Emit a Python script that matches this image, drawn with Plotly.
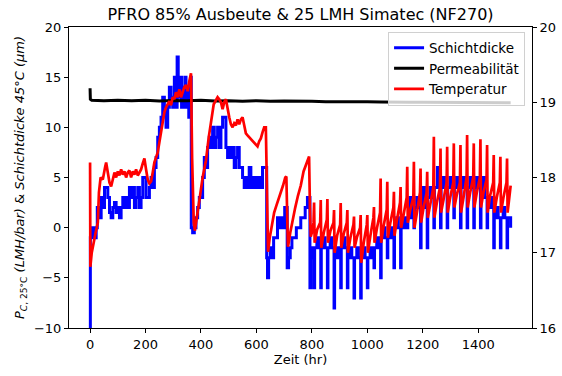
import plotly.graph_objects as go

title_text = "PFRO 85% Ausbeute & 25 LMH Simatec (NF270)"
x_label = "Zeit (hr)"
y_label = "<i>P</i><sub><i>C</i>, 25°C</sub> <i>(LMH/bar)</i> & <i>Schichtdicke 45°C (μm)</i>"
x_ticks = [0, 200, 400, 600, 800, 1000, 1200, 1400]
y_ticks = [-10, -5, 0, 5, 10, 15, 20]
y2_ticks = [16, 17, 18, 19, 20]

# Schichtdicke (blue), (time, value)
schicht_pts = [
    (0, -10), (1, -1), (4, 0), (8, -1), (12, 0), (18, -1), (22, 0), (26, 2), (34, 1), (40, 3),
    (46, 2), (52, 4), (58, 4), (64, 3), (70, 1.5), (76, 1), (82, 2), (88, 2.5), (94, 1.5), (100, 2),
    (106, 1), (112, 2), (118, 3), (124, 2), (130, 3), (136, 2), (142, 4), (148, 3), (154, 4), (160, 2),
    (166, 3), (172, 4), (178, 2), (184, 3), (190, 5), (196, 5), (202, 3), (208, 3), (214, 4), (220, 5),
    (226, 4), (232, 6), (238, 7), (244, 9), (250, 10), (256, 11), (262, 13), (268, 12), (274, 10),
    (280, 12), (286, 14), (292, 13), (298, 12), (304, 15), (310, 12), (314, 17), (318, 14), (322, 13),
    (326, 15), (330, 12), (336, 14), (342, 15), (346, 12), (350, 14), (356, 11), (360, 13), (363, 15),
    (365, 0), (370, -0.5), (376, 0), (382, 1), (388, 2), (394, 3), (400, 3), (406, 5), (412, 7),
    (418, 6), (424, 8), (430, 9), (436, 8), (442, 10), (448, 8), (454, 9), (460, 10), (466, 8),
    (472, 10), (478, 11), (484, 11), (490, 8), (496, 7), (502, 8), (508, 7), (514, 8), (520, 6),
    (526, 7), (532, 8), (538, 6), (544, 6), (550, 5), (556, 4), (562, 5), (568, 4), (574, 6),
    (580, 4), (586, 5), (592, 4), (598, 5), (604, 4), (610, 5), (616, 4), (622, 6), (628, 6),
    (634, 6), (637, -3), (640, -5), (644, -3), (650, -2), (656, -3), (662, -1), (670, -1), (676, 1),
    (684, 0), (690, 1), (696, 0), (702, 2), (708, 2), (711, -4), (716, -3), (722, -2), (728, -1),
    (736, -1), (744, 0), (752, 0), (760, 1), (768, 1), (776, 2), (784, 3), (790, 3), (793, -6),
    (797, -3), (802, -2),
    (808, -6), (810, -2), (818, -1), (824, -2),
    (832, -6), (834, -2), (842, -1), (848, -2),
    (856, -6), (858, -2), (866, -1), (872, -2),
    (880, -8), (882, -3), (890, -2), (896, -3),
    (904, -6), (906, -2), (914, -1), (920, -2),
    (928, -6), (930, -3), (938, -2), (944, -3),
    (952, -7), (954, -3), (962, -2), (968, -3),
    (976, -7), (978, -3), (986, -2), (992, -3),
    (1000, -6), (1002, -3), (1010, -2), (1016, -3),
    (1024, -4), (1026, -2), (1034, -1), (1040, -2),
    (1048, -5), (1050, -1), (1058, 0), (1064, -1),
    (1072, -3), (1074, -1), (1082, 0), (1088, -1),
    (1096, -4), (1098, 0), (1106, 1), (1112, 0),
    (1120, -4), (1122, 0), (1130, 1), (1136, 0),
    (1144, 0), (1146, 1), (1154, 3), (1160, 1),
    (1168, 0), (1170, 2), (1178, 3), (1184, 2),
    (1192, -2), (1194, 2), (1202, 4), (1208, 2),
    (1216, -2), (1218, 3), (1226, 4), (1232, 3),
    (1240, 0), (1242, 4), (1253, 6), (1258, 4),
    (1264, 0), (1266, 4), (1274, 5), (1280, 4),
    (1288, 0), (1290, 4), (1298, 5), (1304, 4),
    (1312, 1), (1314, 4), (1322, 5), (1328, 4),
    (1336, 0), (1338, 4), (1346, 5), (1352, 4),
    (1360, 0), (1362, 4), (1370, 5), (1376, 4),
    (1384, 0), (1386, 4), (1394, 5), (1400, 4),
    (1408, 0), (1410, 3), (1418, 5), (1424, 3),
    (1432, 0), (1434, 2), (1442, 3), (1448, 2),
    (1456, -2), (1458, 1), (1466, 2), (1472, 1),
    (1480, -2), (1482, 1), (1490, 2), (1496, 1),
    (1504, -2), (1506, 1), (1512, 1), (1517, 0),
]

# Permeabilität (black)
perm_pts = [
    (0, 13.9), (1, 12.8), (6, 12.7), (50, 12.65), (100, 12.7), (150, 12.65), (200, 12.7),
    (250, 12.62), (300, 12.68), (350, 12.65), (400, 12.7), (450, 12.62), (500, 12.66),
    (550, 12.6), (600, 12.65), (650, 12.6), (700, 12.63), (750, 12.58), (800, 12.6),
    (850, 12.56), (900, 12.58), (950, 12.55), (1000, 12.55), (1050, 12.52), (1100, 12.54),
    (1150, 12.5), (1200, 12.5), (1250, 12.48), (1300, 12.48), (1350, 12.45), (1400, 12.46),
    (1450, 12.44), (1500, 12.45), (1517, 12.45),
]

# Temperatur (red)
temp_pts = [
    (0, 6.5), (1, -3.9), (6, -2.5), (12, -1.5), (20, -0.5), (28, 0.5), (32, 3.5), (38, 5.0),
    (46, 4.8), (54, 6.0), (58, 6.5), (64, 5.5), (70, 4.5), (76, 4.1), (82, 4.8), (88, 5.5),
    (94, 5.0), (100, 5.6), (106, 5.2), (112, 5.8), (118, 5.3), (124, 5.6), (130, 5.0), (136, 5.5),
    (142, 5.7), (148, 5.0), (154, 5.6), (160, 5.3), (166, 5.8), (172, 5.2), (178, 5.5), (184, 5.8),
    (190, 6.4), (196, 6.9), (202, 5.8), (208, 4.8), (214, 4.4), (220, 4.6), (226, 5.5), (232, 6.5),
    (238, 7.0), (244, 7.5), (250, 8.5), (256, 9.5), (262, 10.5), (268, 11.5), (274, 12.0),
    (280, 12.3), (286, 12.6), (292, 12.2), (298, 13.0), (304, 12.8), (310, 13.5), (316, 13.0),
    (322, 13.8), (328, 13.0), (334, 13.5), (340, 14.0), (346, 14.2), (352, 13.6), (358, 14.6),
    (362, 15.2), (364, 15.4), (368, 7.0), (374, 0.5), (378, -0.3), (384, 1.0), (394, 2.7),
    (406, 5.0), (418, 6.7), (428, 9.0), (436, 10.7), (446, 12.3), (454, 12.7), (460, 13.0),
    (466, 12.8), (472, 12.5), (478, 11.8), (484, 12.5), (490, 12.8), (496, 11.8), (502, 11.0),
    (508, 10.3), (514, 10.0), (520, 10.4), (526, 10.2), (532, 10.8), (538, 10.3), (544, 10.8),
    (550, 11.0), (556, 10.2), (562, 9.4), (568, 9.2), (574, 9.0), (580, 8.8), (586, 8.7),
    (592, 8.5), (598, 8.2), (604, 8.1), (610, 8.6), (616, 8.9), (622, 9.5), (628, 10.0),
    (634, 10.0), (638, 5.0), (642, -2.4), (648, -1.0), (656, 0.5), (664, 1.5), (672, 2.2),
    (680, 2.8), (688, 3.5), (696, 4.2), (704, 5.0), (708, 5.1), (712, 0.0), (714, -1.9),
    (722, -0.5), (730, 0.8), (740, 2.0), (750, 3.2), (760, 4.2), (770, 5.6), (778, 6.2),
    (786, 6.8), (790, 7.1), (793, 2.0), (796, -0.9), (802, -0.3),
    (806, 0.5), (808, 2.5), (810, -1.5), (819, -0.2),
    (830, 0.5), (832, 2.75), (834, -2.0), (843, -0.5),
    (854, 0.8), (856, 2.85), (858, -1.5), (867, -0.3),
    (878, 0.5), (880, 1.75), (882, -2.5), (891, -0.8),
    (902, 0.3), (904, 2.45), (906, -2.0), (915, -0.6),
    (926, 0.5), (928, 1.75), (930, -2.5), (939, -1.0),
    (950, 0.3), (952, 1.1), (954, -2.0), (963, -0.9),
    (974, 0.0), (976, 1.26), (978, -3.5), (987, -1.5),
    (998, 0.3), (1000, 1.26), (1002, -2.5), (1011, -0.8),
    (1022, 1.0), (1024, 2.05), (1026, -1.5), (1035, 0.0),
    (1046, 1.5), (1048, 4.9), (1050, -1.5), (1059, 0.2),
    (1070, 1.8), (1072, 4.58), (1074, -1.0), (1083, 0.5),
    (1094, 2.0), (1096, 3.58), (1098, -0.8), (1107, 0.8),
    (1118, 2.5), (1120, 4.05), (1122, 0.0), (1131, 1.3),
    (1142, 3.0), (1144, 6.07), (1146, 0.5), (1155, 1.8),
    (1166, 3.0), (1168, 6.57), (1170, 0.0), (1179, 1.5),
    (1190, 3.5), (1192, 5.9), (1194, 0.5), (1203, 2.0),
    (1214, 3.5), (1216, 5.57), (1218, 1.0), (1227, 2.3),
    (1238, 4.0), (1240, 9.06), (1242, 1.0), (1251, 2.5),
    (1262, 4.0), (1264, 7.9), (1266, 1.5), (1275, 2.8),
    (1286, 4.5), (1288, 8.07), (1290, 1.5), (1299, 3.0),
    (1310, 4.5), (1312, 8.4), (1314, 2.0), (1323, 3.3),
    (1334, 4.5), (1336, 8.24), (1338, 1.5), (1347, 3.0),
    (1358, 5.0), (1360, 9.23), (1362, 2.0), (1371, 3.5),
    (1382, 5.0), (1384, 8.4), (1386, 2.0), (1395, 3.5),
    (1406, 5.0), (1408, 8.8), (1410, 2.0), (1419, 3.5),
    (1430, 4.8), (1432, 8.24), (1434, 1.5), (1443, 3.2),
    (1454, 4.5), (1456, 7.24), (1458, 1.5), (1467, 3.0),
    (1478, 4.5), (1480, 7.07), (1482, 1.5), (1491, 3.0),
    (1502, 4.5), (1504, 6.9), (1506, 1.5), (1517, 4.2),
]

FONT = "DejaVu Sans"
fig = go.Figure()
fig.add_trace(go.Scatter(
    x=[p[0] for p in schicht_pts], y=[p[1] for p in schicht_pts], name="Schichtdicke",
    mode="lines", line=dict(color="#0000ff", width=3, shape="hv")))
fig.add_trace(go.Scatter(
    x=[p[0] for p in perm_pts], y=[p[1] for p in perm_pts], name="Permeabilität",
    mode="lines", line=dict(color="#000000", width=3)))
fig.add_trace(go.Scatter(
    x=[p[0] for p in temp_pts], y=[p[1] for p in temp_pts], name="Temperatur",
    mode="lines", line=dict(color="#ff0000", width=2.7)))
fig.add_trace(go.Scatter(x=[None], y=[None], yaxis="y2", showlegend=False,
                         hoverinfo="skip", mode="lines"))

axis_common = dict(showgrid=False, zeroline=False, showline=True, linecolor="black",
                   linewidth=1, ticks="outside", ticklen=4, tickwidth=1, tickcolor="black",
                   automargin=False,
                   tickfont=dict(family=FONT, size=13, color="black"))

fig.update_layout(
    width=562, height=376,
    margin=dict(l=69, r=30, t=27, b=48),
    paper_bgcolor="white", plot_bgcolor="white",
    font=dict(family=FONT, size=13, color="black"),
    title=dict(text=title_text, x=0.5, xref="paper", xanchor="center",
               y=1 - 14 / 376, yref="container", yanchor="middle",
               font=dict(family=FONT, size=16, color="black")),
    xaxis=dict(range=[-76, 1594], tickvals=x_ticks, mirror=True,
               title=dict(text=x_label, font=dict(family=FONT, size=13), standoff=4),
               **axis_common),
    yaxis=dict(range=[-10, 20], tickvals=y_ticks,
               title=dict(text=y_label, font=dict(family=FONT, size=13), standoff=6),
               **axis_common),
    yaxis2=dict(range=[16, 20], tickvals=y2_ticks, overlaying="y", side="right",
                **axis_common),
    legend=dict(x=0.985, y=0.985, xanchor="right", yanchor="top",
                bgcolor="rgba(255,255,255,0.8)", bordercolor="#d0d0d0", borderwidth=1,
                font=dict(family=FONT, size=13.5, color="black"), tracegroupgap=0),
    showlegend=True,
)

fig.write_html("out.html", config={"displayModeBar": False},
               post_script="document.body.style.margin='0px';document.body.style.padding='0px';")
